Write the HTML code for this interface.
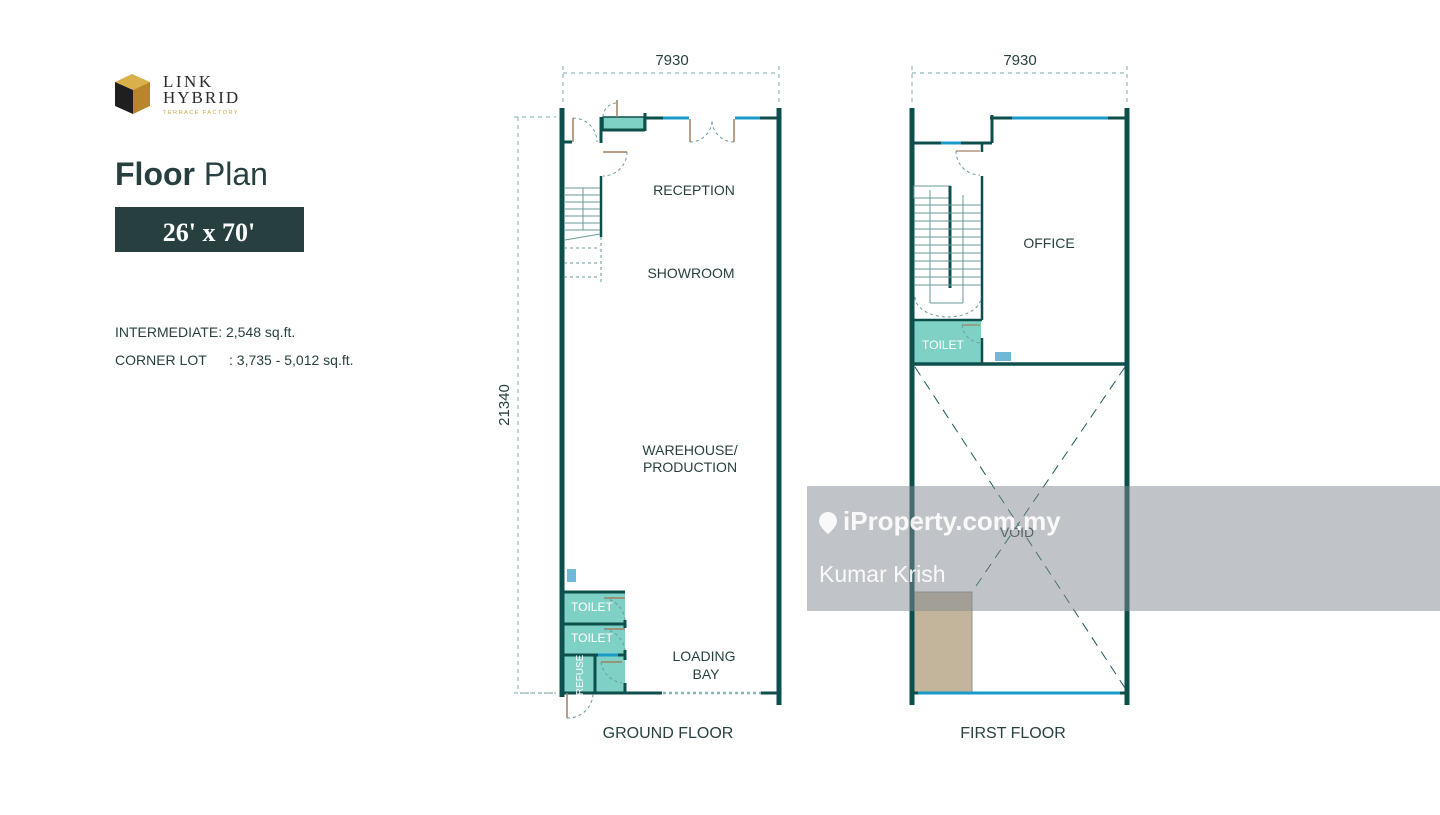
<!DOCTYPE html>
<html><head><meta charset="utf-8"><style>
body{margin:0;width:1440px;height:810px;background:#fff;overflow:hidden;font-family:"Liberation Sans",sans-serif;}
</style></head><body>
<svg width="1440" height="810" viewBox="0 0 1440 810" xmlns="http://www.w3.org/2000/svg" font-family="Liberation Sans, sans-serif">
<!-- logo -->
<polygon points="115,82 132,74 150,82 133,90" fill="#d9b04a"/>
<polygon points="133,90 150,82 150,106 133,114" fill="#b8862a"/>
<polygon points="115,82 133,90 133,114 115,106" fill="#1f1f1f"/>
<text x="163" y="87" font-family="Liberation Serif, serif" font-size="17" fill="#2a2a2a" letter-spacing="2.5">LINK</text>
<text x="163" y="103" font-family="Liberation Serif, serif" font-size="17" fill="#2a2a2a" letter-spacing="2">HYBRID</text>
<text x="163" y="114" font-size="5.8" fill="#c9a84c" letter-spacing="1.3">TERRACE FACTORY</text>
<text x="115" y="185" font-size="32" fill="#27403f"><tspan font-weight="bold">Floor</tspan> Plan</text>
<rect x="115" y="207" width="189" height="45" fill="#27403f"/>
<text x="209" y="241" text-anchor="middle" font-family="Liberation Serif, serif" font-weight="bold" font-size="26" fill="#fff">26' x 70'</text>
<text x="115" y="337" font-size="14" fill="#27403f">INTERMEDIATE: 2,548 sq.ft.</text>
<text x="115" y="365" font-size="14" fill="#27403f">CORNER LOT</text>
<text x="229" y="365" font-size="14" fill="#27403f">: 3,735 - 5,012 sq.ft.</text>

<g stroke="#7aa8a8" stroke-dasharray="4,4" fill="none" stroke-width="1">
<line x1="563" y1="73" x2="779" y2="73"/><line x1="563" y1="66" x2="563" y2="106"/><line x1="779" y1="66" x2="779" y2="106"/>
<line x1="912" y1="73" x2="1127" y2="73"/><line x1="912" y1="66" x2="912" y2="106"/><line x1="1127" y1="66" x2="1127" y2="106"/>
<line x1="518" y1="117" x2="518" y2="693"/><line x1="514" y1="117" x2="556" y2="117"/><line x1="514" y1="693" x2="556" y2="693"/>
</g>
<text x="672" y="65" text-anchor="middle" font-size="15" fill="#27403f">7930</text>
<text x="1020" y="65" text-anchor="middle" font-size="15" fill="#27403f">7930</text>
<text transform="translate(509,405) rotate(-90)" text-anchor="middle" font-size="15" fill="#27403f">21340</text>

<!-- Ground floor -->
<rect x="603" y="117" width="41" height="13" fill="#7fd1c5" stroke="#0d4f4c" stroke-width="1.5"/>
<rect x="564" y="592" width="61" height="101" fill="#7fd1c5"/>
<g stroke="#0d4f4c" fill="none">
<line x1="562" y1="108" x2="562" y2="697" stroke-width="5"/>
<line x1="779" y1="108" x2="779" y2="705" stroke-width="5"/>
<line x1="562" y1="142" x2="572" y2="142" stroke-width="3"/>
<line x1="601" y1="117" x2="601" y2="143" stroke-width="3"/>
<line x1="601" y1="130" x2="645" y2="130" stroke-width="3"/>
<line x1="645" y1="113" x2="645" y2="131" stroke-width="3"/>
<line x1="645" y1="118" x2="689" y2="118" stroke-width="3"/>
<line x1="735" y1="118" x2="779" y2="118" stroke-width="3"/>
<line x1="601" y1="176" x2="601" y2="237" stroke-width="2.5"/>
<line x1="562" y1="592" x2="625" y2="592" stroke-width="3"/>
<line x1="562" y1="624" x2="625" y2="624" stroke-width="3"/>
<line x1="562" y1="655" x2="625" y2="655" stroke-width="3"/>
<line x1="595" y1="655" x2="595" y2="693" stroke-width="3"/>
<line x1="625" y1="620" x2="625" y2="628" stroke-width="3"/>
<line x1="625" y1="650" x2="625" y2="660" stroke-width="3"/>
<line x1="625" y1="683" x2="625" y2="693" stroke-width="3"/>
<line x1="562" y1="693" x2="662" y2="693" stroke-width="3"/>
<line x1="761" y1="693" x2="779" y2="693" stroke-width="3"/>
</g>
<g stroke="#1a9ac9" stroke-width="3"><line x1="663" y1="118" x2="689" y2="118"/><line x1="735" y1="118" x2="760" y2="118"/><line x1="598" y1="655" x2="618" y2="655"/></g>
<g stroke="#a08060" stroke-width="1.5" fill="none"><line x1="573" y1="118" x2="573" y2="142"/><line x1="603" y1="152" x2="627" y2="152"/><line x1="690" y1="119" x2="690" y2="142"/><line x1="734" y1="119" x2="734" y2="142"/><line x1="617" y1="100" x2="617" y2="117"/><line x1="567" y1="693" x2="567" y2="718"/><line x1="604" y1="598" x2="625" y2="598"/><line x1="604" y1="629" x2="625" y2="629"/><line x1="601" y1="662" x2="622" y2="662"/></g>
<g stroke="#6a9a9a" stroke-width="1" stroke-dasharray="3,3" fill="none">
<path d="M573,118 A24,24 0 0 1 597,142"/><path d="M627,152 A24,24 0 0 1 603,176"/><path d="M690,142 A22,22 0 0 0 712,120 A22,22 0 0 0 734,142"/><path d="M603,117 A14,14 0 0 1 617,103"/>
<line x1="663" y1="693" x2="761" y2="693" stroke-width="2.5" stroke="#8ab5b5"/>
<line x1="601" y1="237" x2="601" y2="285"/><line x1="564" y1="248" x2="598" y2="248"/><line x1="564" y1="263" x2="598" y2="263"/><line x1="564" y1="277" x2="598" y2="277"/>
<path d="M604,598 A25,25 0 0 1 625,620"/><path d="M604,629 A25,25 0 0 1 625,650"/><path d="M601,662 A25,25 0 0 0 622,683"/><path d="M567,718 A25,25 0 0 0 593,693"/>
<line x1="520" y1="693" x2="556" y2="693"/>
</g>
<g stroke="#6a9a9a" stroke-width="1"><line x1="565" y1="188" x2="600" y2="188"/><line x1="565" y1="195" x2="600" y2="195"/><line x1="565" y1="202" x2="600" y2="202"/><line x1="565" y1="209" x2="600" y2="209"/><line x1="565" y1="216" x2="600" y2="216"/><line x1="565" y1="223" x2="600" y2="223"/><line x1="565" y1="230" x2="600" y2="230"/><line x1="583" y1="188" x2="583" y2="230"/><line x1="565" y1="240" x2="600" y2="234"/></g>
<rect x="567" y="569" width="9" height="13" fill="#6fb8d8"/>
<g font-size="14" fill="#27403f" text-anchor="middle">
<text x="694" y="195">RECEPTION</text><text x="691" y="278">SHOWROOM</text>
<text x="690" y="455">WAREHOUSE/</text><text x="690" y="472">PRODUCTION</text>
<text x="704" y="661">LOADING</text><text x="706" y="679">BAY</text>
<text x="668" y="738" font-size="16">GROUND FLOOR</text>
<text x="1013" y="738" font-size="16">FIRST FLOOR</text>
<text x="1049" y="248">OFFICE</text>
</g>
<g font-size="12" fill="#fff"><text x="571" y="611">TOILET</text><text x="571" y="642">TOILET</text><text transform="translate(583,675) rotate(-90)" font-size="10" text-anchor="middle">REFUSE</text></g>

<!-- First floor -->
<rect x="914" y="320" width="67" height="43" fill="#7fd1c5"/>
<rect x="914" y="592" width="58" height="101" fill="#c2b59b" stroke="#8a9a90" stroke-width="1"/>
<g stroke="#0d4f4c" fill="none">
<line x1="912" y1="108" x2="912" y2="705" stroke-width="5"/>
<line x1="1127" y1="108" x2="1127" y2="705" stroke-width="5"/>
<line x1="912" y1="143" x2="992" y2="143" stroke-width="3"/>
<line x1="992" y1="143" x2="992" y2="115" stroke-width="3"/>
<line x1="990" y1="118" x2="1127" y2="118" stroke-width="3"/>
<line x1="982" y1="143" x2="982" y2="152" stroke-width="2.5"/>
<line x1="982" y1="176" x2="982" y2="320" stroke-width="2.5"/>
<line x1="912" y1="320" x2="982" y2="320" stroke-width="2.5"/>
<line x1="912" y1="364" x2="1127" y2="364" stroke-width="3.5"/>
<line x1="982" y1="338" x2="982" y2="364" stroke-width="2.5"/>
<line x1="914" y1="693" x2="1127" y2="693" stroke-width="3"/>
</g>
<g stroke="#1a9ac9" stroke-width="3"><line x1="941" y1="143" x2="961" y2="143"/><line x1="1012" y1="118" x2="1108" y2="118"/><line x1="918" y1="693" x2="1120" y2="693"/></g>
<g stroke="#a08060" stroke-width="1.2"><line x1="956" y1="151" x2="980" y2="151"/><line x1="962" y1="325" x2="980" y2="325"/></g>
<g stroke="#6a9a9a" stroke-width="1" fill="none">
<rect x="914" y="186" width="36" height="12"/><line x1="950" y1="186" x2="950" y2="288" stroke="#0d4f4c" stroke-width="3"/>
<line x1="930" y1="190" x2="930" y2="303"/><line x1="963" y1="195" x2="963" y2="303"/><line x1="930" y1="303" x2="963" y2="303"/>
<line x1="914" y1="205" x2="981" y2="205"/><line x1="914" y1="213" x2="981" y2="213"/><line x1="914" y1="221" x2="981" y2="221"/><line x1="914" y1="229" x2="981" y2="229"/><line x1="914" y1="237" x2="981" y2="237"/><line x1="914" y1="245" x2="981" y2="245"/><line x1="914" y1="253" x2="981" y2="253"/><line x1="914" y1="261" x2="981" y2="261"/><line x1="914" y1="269" x2="981" y2="269"/><line x1="914" y1="277" x2="981" y2="277"/><line x1="914" y1="285" x2="981" y2="285"/>
<g stroke-dasharray="3,3"><path d="M956,151 A24,24 0 0 0 980,175"/><path d="M915,297 A33,20 0 0 0 981,297"/><path d="M962,325 A20,20 0 0 0 980,343"/></g>
<g stroke="#1c5a58" stroke-dasharray="10,7"><line x1="915" y1="367" x2="1125" y2="688"/><line x1="1125" y1="367" x2="972" y2="592"/></g>
</g>
<rect x="995" y="352" width="16" height="9" fill="#6fb8d8"/>
<text x="922" y="349" font-size="12" fill="#fff">TOILET</text>
<text x="1017" y="537" text-anchor="middle" font-size="14" fill="#27403f">VOID</text>

<!-- watermark -->
<rect x="807" y="486" width="633" height="125" fill="rgb(130,138,145)" fill-opacity="0.5"/>
<path d="M828,512 a9,9 0 0 1 9,9 c0,6 -9,13 -9,13 c0,0 -9,-7 -9,-13 a9,9 0 0 1 9,-9z" fill="#fff" fill-opacity="0.9"/>
<text x="843" y="530" font-size="26" font-weight="bold" fill="#fff" fill-opacity="0.9">iProperty.com.my</text>
<text x="819" y="582" font-size="23" fill="#fff" fill-opacity="0.9">Kumar Krish</text>
</svg>
</body></html>
